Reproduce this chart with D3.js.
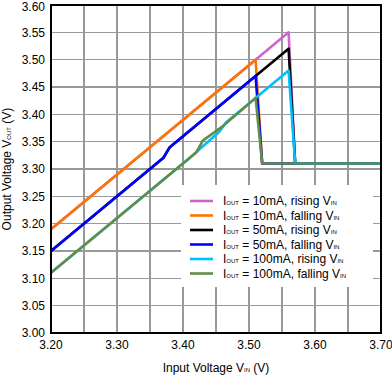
<!DOCTYPE html>
<html lang="en">
<head>
  <meta charset="UTF-8">
  <title>Output Voltage vs Input Voltage</title>
  <script src="https://d3js.org/d3.v7.min.js"></script>
  <style>
    body { margin: 0; background: #fff; }
    text { font-family: "Liberation Sans", Arial, sans-serif; fill: #000; }
    .grid line { stroke: #999; stroke-width: 1.2px; shape-rendering: crispEdges; }
    .tick-label { font-size: 12px; }
    .title { font-size: 12px; }
    .series { fill: none; stroke-width: 2.6px; stroke-linejoin: round; }
  </style>
</head>
<body>
  <div id="chart"></div>
  <script>
    // Ticks
    const xTicks = [3.20, 3.30, 3.40, 3.50, 3.60, 3.70];
    const yTicks = [3.00, 3.05, 3.10, 3.15, 3.20, 3.25, 3.30, 3.35, 3.40, 3.45, 3.50, 3.55, 3.60];
    const xGrid = [3.25, 3.30, 3.35, 3.40, 3.45, 3.50, 3.55, 3.60, 3.65];

    // Series, [VIN, VOUT]
    const rising10 = [[3.20, 3.19], [3.51, 3.50], [3.56, 3.55], [3.57, 3.31], [3.70, 3.31]];
    const falling10 = [[3.20, 3.19], [3.51, 3.50], [3.52, 3.31], [3.70, 3.31]];
    const rising50 = [[3.20, 3.15], [3.37, 3.32], [3.38, 3.34], [3.51, 3.47], [3.56, 3.52], [3.57, 3.31], [3.70, 3.31]];
    const falling50 = [[3.20, 3.15], [3.37, 3.32], [3.38, 3.34], [3.51, 3.47], [3.52, 3.31], [3.70, 3.31]];
    const rising100 = [[3.20, 3.11], [3.41, 3.32], [3.455, 3.368], [3.465, 3.385], [3.51, 3.43], [3.56, 3.48], [3.57, 3.31], [3.70, 3.31]];
    const falling100 = [[3.20, 3.11], [3.41, 3.32], [3.42, 3.33], [3.43, 3.352], [3.46, 3.378], [3.51, 3.43], [3.52, 3.31], [3.70, 3.31]];

    const seriesNames = ["10mA, rising", "10mA, falling", "50mA, rising", "50mA, falling", "100mA, rising", "100mA, falling"];
    const seriesData = [rising10, falling10, rising50, falling50, rising100, falling100];
    const seriesColors = ["#cc66cc", "#ff7300", "#000000", "#0000ff", "#00bfff", "#608d47"];

    const margin = { top: 5, right: 11, bottom: 42, left: 51 },
          width = 392 - margin.left - margin.right,
          height = 375 - margin.top - margin.bottom;

    const svg = d3.select("#chart")
                  .append("svg")
                  .attr("width", 392)
                  .attr("height", 375);

    const g = svg.append("g")
                 .attr("transform", `translate(${margin.left},${margin.top})`);

    const x = d3.scaleLinear().domain([3.20, 3.70]).range([0, width]);
    const y = d3.scaleLinear().domain([3.00, 3.60]).range([height, 0]);

    // Grid
    const grid = g.append("g").attr("class", "grid");
    grid.selectAll(".gx")
        .data(xGrid)
        .enter()
        .append("line")
        .attr("x1", d => x(d)).attr("x2", d => x(d))
        .attr("y1", 0).attr("y2", height);
    grid.selectAll(".gy")
        .data(yTicks.slice(1, -1))
        .enter()
        .append("line")
        .attr("x1", 0).attr("x2", width)
        .attr("y1", d => y(d)).attr("y2", d => y(d));

    // Series
    const line = d3.line().x(d => x(d[0])).y(d => y(d[1]));
    g.selectAll(".series")
     .data(seriesData)
     .enter()
     .append("path")
     .attr("class", "series")
     .attr("d", line)
     .attr("stroke", (d, i) => seriesColors[i]);

    // Frame
    g.append("rect")
     .attr("width", width)
     .attr("height", height)
     .attr("fill", "none")
     .attr("stroke", "#000")
     .attr("stroke-width", 2);

    // Tick labels (top one nudged down so it is not clipped)
    g.selectAll(".ylab")
     .data(yTicks)
     .enter()
     .append("text")
     .attr("class", "tick-label")
     .attr("x", -6)
     .attr("y", d => Math.max(y(d), 1.5))
     .attr("dy", "0.35em")
     .attr("text-anchor", "end")
     .text(d => d.toFixed(2));

    g.selectAll(".xlab")
     .data(xTicks)
     .enter()
     .append("text")
     .attr("class", "tick-label")
     .attr("x", d => x(d))
     .attr("y", height + 16)
     .attr("text-anchor", "middle")
     .text(d => d.toFixed(2));

    // Axis titles
    const xt = svg.append("text")
                  .attr("class", "title")
                  .attr("x", margin.left + width / 2)
                  .attr("y", 372)
                  .attr("text-anchor", "middle");
    xt.append("tspan").text("Input Voltage V");
    xt.append("tspan").attr("font-size", "6px").text("IN");
    xt.append("tspan").text(" (V)");

    const yt = svg.append("text")
                  .attr("class", "title")
                  .attr("transform", `translate(11,${margin.top + height / 2}) rotate(-90)`)
                  .attr("text-anchor", "middle");
    yt.append("tspan").text("Output Voltage V");
    yt.append("tspan").attr("font-size", "6px").text("OUT");
    yt.append("tspan").text(" (V)");

    // Legend
    const lg = svg.append("g").attr("transform", "translate(181,185)");
    lg.append("rect")
      .attr("width", 192)
      .attr("height", 102)
      .attr("fill", "#fff");

    const rows = lg.selectAll(".row")
                   .data(seriesNames)
                   .enter()
                   .append("g")
                   .attr("transform", (d, i) => `translate(0,${16 + i * 14.5})`);
    rows.append("line")
        .attr("x1", 9).attr("x2", 32)
        .attr("stroke", (d, i) => seriesColors[i])
        .attr("stroke-width", 2.6);
    const lt = rows.append("text")
                   .attr("class", "title")
                   .attr("x", 42)
                   .attr("dy", "0.35em");
    lt.append("tspan").text("I");
    lt.append("tspan").attr("font-size", "6px").text("OUT");
    lt.append("tspan").text(d => " = " + d.split(", ")[0] + ", " + d.split(", ")[1] + " V");
    lt.append("tspan").attr("font-size", "6px").text("IN");
  </script>
</body>
</html>
